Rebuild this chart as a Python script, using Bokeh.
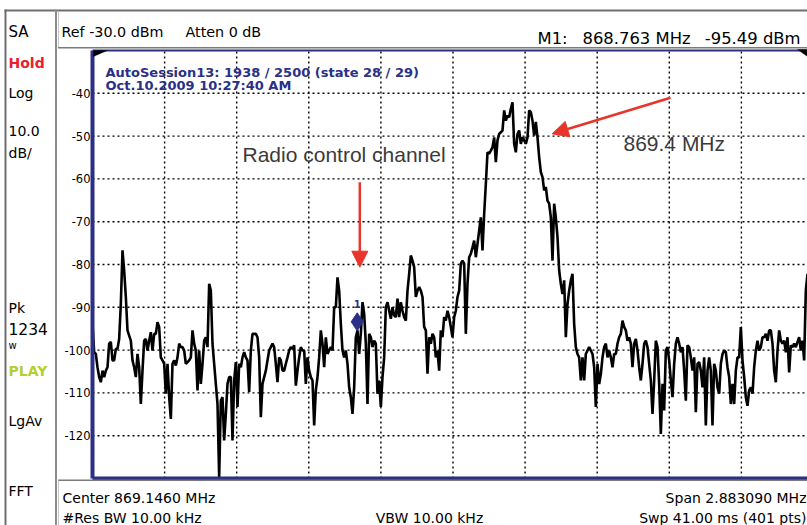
import numpy as np
from bokeh.plotting import figure
from bokeh.models import (Range1d, Label, Arrow, NormalHead, BoxAnnotation,
                          PolyAnnotation, ColumnDataSource)
from bokeh.core.properties import value
from bokeh.embed import file_html
from bokeh.resources import INLINE

# ---------------- instrument settings / data ----------------
center_mhz = 869.1460
span_mhz = 2.883090
ref_dbm = -30.0
db_per_div = 10.0
n_xdiv = 10
n_ydiv = 10
f_view_end = 870.5636          # right edge of the (cropped) screenshot
marker_freq = 868.763
marker_dbm = -95.49
y_ticks = [-40, -50, -60, -70, -80, -90, -100, -110, -120]
y_tick_labels = ["-40", "-50", "-60", "-70", "-80", "-90", "-100", "-110", "-120"]

# trace values (dBm), left to right
trace_seg1 = [-93.9, -100.5, -100.9, -104.0, -106.3, -107.5, -104.8, -106.3, -104.8, -104.0,
              -98.5, -98.1, -102.4, -102.4, -99.7, -99.7, -97.4, -89.2, -76.7, -81.4,
              -87.6, -95.4, -96.6, -97.8, -102.4, -104.0, -106.3, -100.9, -104.0, -112.6,
              -104.8, -97.8, -97.4, -100.1, -97.8, -95.8, -100.1, -96.2, -96.2, -93.5,
              -94.6, -101.7, -102.4, -103.2, -110.2, -103.2, -111.0, -116.1, -103.2, -102.4,
              -103.6, -101.7, -98.5, -99.3, -99.3, -100.1, -103.2, -102.8, -102.4, -101.7,
              -95.4, -98.5, -100.1, -109.4, -100.1, -107.9, -103.2, -97.8, -97.0, -99.3,
              -84.5, -86.1, -98.5, -103.2, -107.9, -112.6, -129.7, -111.8, -111.0, -121.1,
              -114.9, -107.9, -106.3, -106.3, -121.1, -107.1, -102.8, -113.3, -103.2, -104.0,
              -101.7, -100.5, -101.7, -102.4, -109.8, -100.1, -96.2, -96.2, -96.2, -97.0,
              -101.7, -115.7, -107.9, -106.3, -104.8, -102.4, -100.1, -99.3, -98.5]
trace_seg2 = [-99.3, -103.2, -107.5, -101.7, -102.4, -104.8, -104.8, -103.2, -101.7, -100.1,
              -99.3, -99.7, -98.9, -108.3, -104.8, -101.7, -99.3, -100.1, -100.1, -107.9,
              -101.7, -104.8, -106.3, -107.1, -117.6, -109.4, -106.3, -101.7, -95.4, -98.5,
              -104.0, -97.0, -100.9, -100.1, -99.3, -100.1, -90.0, -90.0, -83.0, -86.1,
              -93.9, -100.1, -101.7, -100.1, -103.2, -108.7, -111.0, -114.9, -108.7, -97.0,
              -95.4, -100.9, -96.2, -88.8, -91.5, -98.5, -112.6, -96.2, -97.0, -99.3,
              -97.8, -98.5, -110.2, -107.1, -113.3, -106.3, -101.7, -90.0, -88.8, -90.8,
              -92.7, -90.0, -91.9, -92.3, -88.0, -92.3, -88.8, -90.8, -92.3, -93.1,
              -86.1, -82.2, -77.9, -79.1, -80.6, -87.6, -86.1, -85.3, -86.1, -87.6,
              -94.6, -95.4, -105.5, -97.0, -98.5, -96.2, -97.0, -101.7, -100.1, -104.8,
              -95.4, -97.0, -92.3, -93.1, -90.8, -92.3, -94.6, -97.0]
trace_seg3 = [-92.3, -90.8, -87.6, -86.1, -79.8, -79.1, -79.8, -96.2, -84.5, -78.3,
              -77.5, -76.0, -74.4, -78.3, -75.2, -72.1, -69.0, -76.7, -68.2, -61.2,
              -53.8, -54.1, -53.4, -52.6, -50.3, -56.1, -51.0, -49.5, -49.1, -48.7,
              -44.0, -46.4, -45.2, -45.6, -43.6, -42.1, -51.8, -53.8, -49.5, -48.7,
              -51.8, -50.3, -51.0, -51.8, -50.3, -44.0, -44.4, -46.4, -49.9, -46.7,
              -50.3, -54.9, -58.4, -59.6, -62.7, -61.9, -65.1, -65.8, -69.0, -79.1,
              -65.8, -69.0, -73.6, -81.4, -84.5, -86.9, -83.7, -97.0, -89.2, -86.1,
              -83.7, -82.2, -93.9, -99.3, -100.9, -101.7, -107.1, -101.7, -107.1, -100.9,
              -100.1, -99.3, -100.1, -100.9, -104.0, -113.3, -103.2, -107.9, -105.6, -101.7,
              -99.3, -98.5, -101.7, -100.1, -101.7, -104.0, -100.9, -100.9, -98.5, -97.0,
              -96.2, -93.1, -94.6, -95.4, -97.8, -97.0, -98.5, -104.0]
trace_seg4 = [-98.5, -97.4, -100.1, -104.0, -107.1, -103.2, -98.5, -97.8, -99.3, -103.2,
              -107.1, -114.9, -107.1, -97.8, -99.3, -107.9, -119.6, -107.9, -114.1, -100.1,
              -99.3, -102.4, -107.1, -111.0, -103.2, -98.5, -97.0, -98.5, -100.5, -99.3,
              -104.8, -111.8, -98.9, -99.3, -101.7, -104.8, -101.7, -114.5, -103.2, -102.8,
              -104.8, -108.7, -101.7, -117.6, -104.8, -101.7, -104.8, -117.6, -103.2, -104.8,
              -108.7, -110.2, -103.2, -100.9, -100.1, -100.5, -104.0, -106.3, -112.6, -107.9,
              -112.6, -104.8, -101.7, -101.7, -94.6, -102.4, -106.3, -111.0, -113.0, -109.4,
              -108.7, -110.2, -104.0, -100.1, -97.8, -100.1, -99.3, -97.0, -97.0, -96.2,
              -97.8, -95.4, -95.4, -98.5, -104.8, -107.5, -100.1, -95.4, -97.8, -98.5,
              -97.8, -100.5, -97.0, -105.2, -98.9, -99.3, -98.5, -99.3, -98.1, -97.0,
              -100.1, -97.8, -102.4, -86.1, -82.2]

# annotation anchors (MHz, dBm)
radio_arrow = dict(x0=868.7734, y0=-60.77, x1=868.7734, y1=-80.63)
peak_arrow = dict(x0=870.0157, y0=-41.05, x1=869.5427, y1=-49.46)
radio_text = dict(x=868.3043, y=-56.9, text="Radio control channel")
peak_text = dict(x=869.8278, y=-54.5, text="869.4 MHz")

# ---------------- layout (screen pixels) ----------------
W, H = 807, 525
GX0, GX1 = 92, 807      # graticule left edge / visible right edge
GY0, GY1 = 50, 478      # graticule top / bottom
NAVY = "#2b2f86"
RED = "#e8352b"
UI = "DejaVu Sans"

# ---------------- derived ----------------
f_start = center_mhz - span_mhz / 2
f_stop = center_mhz + span_mhz / 2
y_top = ref_dbm
y_bottom = ref_dbm - n_ydiv * db_per_div
trace = trace_seg1 + trace_seg2 + trace_seg3 + trace_seg4
freqs = np.linspace(f_start, f_view_end, len(trace))
x_grid = [f_start + i * span_mhz / n_xdiv for i in range(1, n_xdiv)]

mhz_px = (f_view_end - f_start) / (GX1 - GX0)
db_px = (y_top - y_bottom) / (GY1 - GY0)
x_rng = Range1d(f_start - GX0 * mhz_px, f_view_end)
y_rng = Range1d(y_bottom - (H - GY1) * db_px, y_top + GY0 * db_px)

p = figure(width=W, height=H, output_backend="svg", toolbar_location=None,
           x_range=x_rng, y_range=y_rng,
           x_axis_location=None, y_axis_location=None,
           min_border=0, min_border_left=0, min_border_right=0,
           min_border_top=0, min_border_bottom=0)
p.outline_line_color = None
p.background_fill_color = "white"
p.border_fill_color = "white"
p.grid.visible = False

# graticule (dotted)
DOT = dict(line_color="black", line_dash="2 3", line_width=1.4)
p.segment(x0=x_grid, y0=[y_bottom] * len(x_grid), x1=x_grid, y1=[y_top] * len(x_grid), **DOT)
p.segment(x0=[f_start] * len(y_ticks), y0=y_ticks, x1=[f_stop] * len(y_ticks), y1=y_ticks, **DOT)

# y tick labels
p.text(x=[f_start] * len(y_ticks), y=y_ticks, text=y_tick_labels, x_offset=-2,
       text_align="right", text_baseline="middle", text_font=value(UI),
       text_font_size="11.5px", text_color="black")

# trace
src = ColumnDataSource(dict(f=freqs, a=trace))
p.line("f", "a", source=src, line_color="black", line_width=2.6)

# graticule borders
p.segment(x0=[f_start], y0=[y_bottom], x1=[f_start], y1=[y_top], line_color=NAVY, line_width=4)
p.segment(x0=[f_start], y0=[y_bottom], x1=[f_stop], y1=[y_bottom], line_color=NAVY, line_width=4)
p.segment(x0=[f_start], y0=[y_top], x1=[f_stop], y1=[y_top], line_color=NAVY, line_width=2)

# marker diamond (lower tip on the trace point) + "1"
p.scatter([marker_freq], [marker_dbm + 9 * db_px], marker="diamond", size=18,
          fill_color=NAVY, line_color=NAVY)
p.add_layout(Label(x=marker_freq, y=marker_dbm, text="1", y_offset=23, text_align="center",
                   text_font=UI, text_font_style="bold", text_font_size="10px",
                   text_color=NAVY))

# red arrows + annotation text
for a in (radio_arrow, peak_arrow):
    p.add_layout(Arrow(x_start=a["x0"], y_start=a["y0"], x_end=a["x1"], y_end=a["y1"],
                       line_color=RED, line_width=2.5,
                       end=NormalHead(size=16, fill_color=RED, line_color=RED)))
for t in (radio_text, peak_text):
    p.add_layout(Label(x=t["x"], y=t["y"], text=t["text"], text_font="Liberation Sans",
                       text_font_size="21px", text_color="#3a3a3a"))

# ---------- screen decorations (canvas units) ----------
def box(x0, x1, y0, y1, color):
    p.add_layout(BoxAnnotation(left=x0, right=x1, top=y0, bottom=y1,
                               left_units="canvas", right_units="canvas",
                               top_units="canvas", bottom_units="canvas",
                               fill_color=color, fill_alpha=1, line_color=None))

def tri(xs, ys):
    p.add_layout(PolyAnnotation(xs=xs, ys=ys, xs_units="canvas", ys_units="canvas",
                                fill_color="black", fill_alpha=1, line_color="black",
                                line_width=1))

def txt(x, y, s, size="14px", color="black", style="normal", align="left", font=UI):
    p.add_layout(Label(x=x, y=y, x_units="canvas", y_units="canvas", text=s,
                       text_font=font, text_font_size=size, text_color=color,
                       text_font_style=style, text_align=align,
                       text_baseline="alphabetic"))

box(4, W, 9, 11, "#6e6e6e")           # top line
box(4, 6, 9, H, "#6e6e6e")            # left edge
box(54.5, 56.5, 9, H, "#8c8c8c")      # left panel separator
box(57.5, 58.5, 11, 47, "#c8c8c8")
box(57.5, W, 46.5, 48, "#7a7a7a")     # bottom of top bar
box(57.5, W, 479, 480.5, "#7a7a7a")   # top of bottom bar
box(57.5, 58.5, 480, H, "#c8c8c8")

tri([93, 107, 93], [50, 50, 56])
tri([797, 807, 807], [49, 49, 56])

txt(8, 31, "SA", "15px")
txt(8, 62, "Hold", "14px", "#e8202a", "bold")
txt(8, 92, "Log", "14px")
txt(8, 130, "10.0", "14px")
txt(8, 152, "dB/", "14px")
txt(8, 307, "Pk", "14px")
txt(8, 328, "1234", "15.5px")
txt(8, 345, "w", "10px")
txt(8, 370, "PLAY", "14px", "#b5cf32", "bold")
txt(8, 420, "LgAv", "14px")
txt(8, 490, "FFT", "14px")

txt(61, 31, "Ref -30.0 dBm", "14.3px")
txt(185, 31, "Atten 0 dB", "14.3px")
txt(537, 38, "M1:", "16.4px")
txt(582, 38, "868.763 MHz", "16.4px")
txt(800, 38, "-95.49 dBm", "16.4px", align="right")

txt(105, 72, "AutoSession13: 1938 / 2500 (state 28 / 29)", "13px", NAVY, "bold")
txt(105, 85, "Oct.10.2009 10:27:40 AM", "13px", NAVY, "bold")

txt(62, 497, "Center 869.1460 MHz", "14px")
txt(806, 497, "Span 2.883090 MHz", "14px", align="right")
txt(62, 517, "#Res BW 10.00 kHz", "14px")
txt(429, 517, "VBW 10.00 kHz", "14px", align="center")
txt(806, 517, "Swp 41.00 ms (401 pts)", "14px", align="right")

open("out.html", "w").write(file_html(p, INLINE))
